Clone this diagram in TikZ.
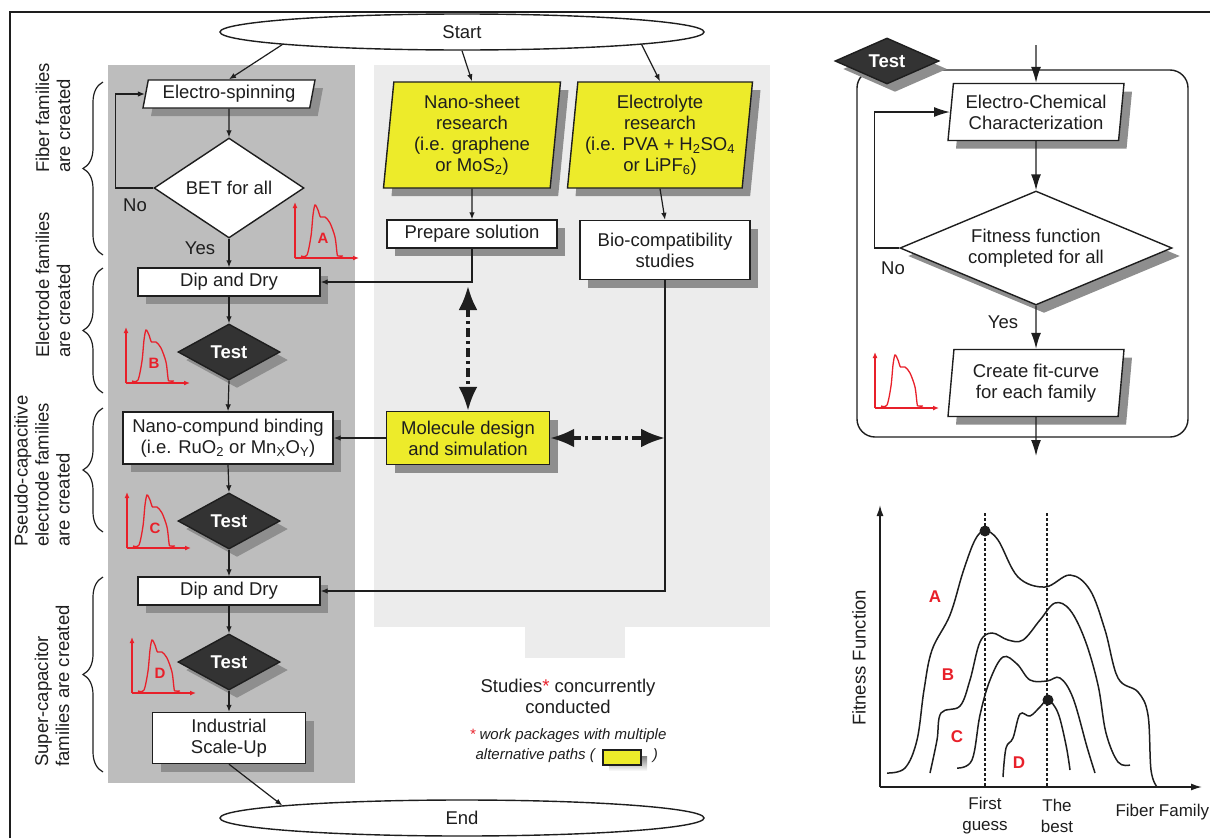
\documentclass[tikz,border=0pt]{standalone}
\usepackage{fontspec}
\setmainfont{Liberation Sans}
\usetikzlibrary{shapes.geometric,arrows.meta,shadows,decorations.pathreplacing,calc}
\definecolor{panel}{HTML}{BDBDBD}
\definecolor{lightpanel}{HTML}{ECECEC}
\definecolor{shade}{HTML}{8E8E8E}
\definecolor{boxyellow}{HTML}{EDEB2A}
\definecolor{testfill}{HTML}{333333}
\definecolor{ink}{HTML}{1E1E1E}
\definecolor{plotred}{HTML}{E8202A}
\tikzset{
  txt/.style={font=\fontsize{18.5}{21}\selectfont, text=ink},
  base/.style={txt, draw=ink, line width=1.4pt, inner sep=2pt, align=center},
  sh/.style={drop shadow={shadow xshift=8pt, shadow yshift=-8pt, fill=shade, opacity=1}},
  procbox/.style={base, sh, rectangle, fill=white},
  altbox/.style={base, sh, rectangle, fill=boxyellow},
  iobox/.style={base, sh, trapezium, trapezium stretches body, fill=white},
  decision/.style={base, diamond, fill=white, inner sep=0pt, aspect=2},
  testdia/.style={base, sh, diamond, fill=testfill, text=white, font=\bfseries\fontsize{18.5}{21}\selectfont,
    inner sep=0pt, aspect=2, minimum width=102pt, minimum height=56pt},
  terminal/.style={base, ellipse, fill=white, minimum width=484pt, minimum height=36pt},
  flow/.style={draw=ink, line width=1.2pt, -{Latex[length=7pt,width=5.5pt]}},
  bigflow/.style={draw=ink, line width=1.4pt, -{Latex[length=16pt,width=10pt]}},
  dashlink/.style={draw=ink, line width=3.5pt, dash pattern=on 9pt off 4pt on 3pt off 4pt,
    {Latex[length=24pt,width=19pt]}-{Latex[length=24pt,width=19pt]}},
  flowlab/.style={txt, inner sep=0pt},
  fambrace/.style={draw=ink, line width=1.2pt, decorate, decoration={brace, amplitude=20pt}},
  famtext/.style={txt, rotate=90, anchor=west, align=left, inner sep=0pt},
  axis/.style={draw=ink, line width=1.5pt, -{Latex[length=11pt,width=7pt]}},
  fitline/.style={draw=ink, line width=1.5pt},
  guide/.style={draw=ink, line width=1.2pt, dash pattern=on 3pt off 2pt},
  curvelab/.style={font=\bfseries\fontsize{17}{17}\selectfont, text=plotred},
  pics/spectrum/.style={code={
    \draw[plotred, line width=1.3pt, -{Latex[length=6pt,width=5pt]}] (0,0) -- (0,-56);
    \draw[plotred, line width=1.3pt, -{Latex[length=6pt,width=5pt]}] (0,0) -- (64,0);
    \draw[plotred, line width=1.3pt] plot[smooth, tension=0.5] coordinates {(6,-2) (12,-3) (16,-22) (18,-43)
      (20,-53) (23,-48) (25.5,-41) (30,-41) (35,-35) (40,-21) (42,-5) (43,-2) (48,-2)};
    \node[curvelab, font=\bfseries\fontsize{15}{15}\selectfont] at (28,-20) {#1};
  }},
  pics/spectrum/.default={}
}
\begin{document}
\begin{tikzpicture}[x=1pt, y=-1pt]
  \useasboundingbox (0,0) rectangle (1210,838);
  \draw[ink, line width=2.4pt] (10,838) -- (10,12) -- (1210,12);

  % background panels
  \fill[panel] (108,65) rectangle (355,783);
  \fill[lightpanel] (374,65) rectangle (770,627);
  \fill[lightpanel] (525,627) rectangle (625,658);
  \draw[ink, line width=1.4pt, rounded corners=18pt, fill=white] (857,70) rectangle (1188,437);

  % start and end
  \node[terminal] (start) at (462,32) {Start};
  \node[terminal] (end) at (462,818) {End};

  % main chain
  \node[iobox, trapezium left angle=76, trapezium right angle=104, minimum width=172pt, minimum height=28pt]
    (spin) at (229,94) {Electro-spinning};
  \node[decision, minimum width=150pt, minimum height=100pt] (bet) at (229,188) {BET for all};
  \node[procbox, minimum width=182pt, minimum height=28pt] (dip1) at (229,282) {Dip and Dry};
  \node[testdia] (test1) at (229,352) {Test};
  \node[procbox, minimum width=210pt, minimum height=52pt] (bind) at (228,438)
    {Nano-compund binding\\(i.e. RuO\textsubscript{2} or Mn\textsubscript{X}O\textsubscript{Y})};
  \node[testdia] (test2) at (229,521) {Test};
  \node[procbox, minimum width=182pt, minimum height=28pt] (dip2) at (229,591) {Dip and Dry};
  \node[testdia] (test3) at (229,662) {Test};
  \node[procbox, minimum width=153pt, minimum height=51pt] (scale) at (229,738) {Industrial\\Scale-Up};
  \node[flowlab] (no1) at (135,205) {No};
  \node[flowlab] (yes1) at (200,248) {Yes};

  \draw[flow] (start.184) -- (spin.north);
  \draw[flow] (spin.south) -- (bet.north);
  \draw[flow] (bet.west) -- ++(-38,0) |- (spin.west);
  \draw[flow] (bet.south) -- (dip1.north);
  \draw[flow] (dip1.south) -- (test1.north);
  \draw[flow] (test1.south) -- (bind.north);
  \draw[flow] (bind.south) -- (test2.north);
  \draw[flow] (test2.south) -- (dip2.north);
  \draw[flow] (dip2.south) -- (test3.north);
  \draw[flow] (test3.south) -- (scale.north);
  \draw[flow] (scale.south) -- (end.176);

  \pic at (295,258) {spectrum=A};
  \pic at (126,383) {spectrum=B};
  \pic at (127,548) {spectrum=C};
  \pic at (132,693) {spectrum=D};

  % family braces
  \draw[fambrace] (103,255) -- (103,82);
  \draw[fambrace] (103,393) -- (103,268);
  \draw[fambrace] (103,532) -- (103,408);
  \draw[fambrace] (103,772) -- (103,577);
  \node[famtext] (fam1) at (53,173) {Fiber families\\are created};
  \node[famtext] (fam2) at (53,358) {Electrode families\\are created};
  \node[famtext] (fam3) at (42,547) {Pseudo-capacitive\\electrode families\\are created};
  \node[famtext] (fam4) at (52,767) {Super-capacitor\\families are created};

  % concurrent studies
  \node[iobox, fill=boxyellow, trapezium left angle=83, trapezium right angle=97, minimum width=177pt, minimum height=106pt]
    (sheet) at (472,135) {Nano-sheet\\research\\(i.e. graphene\\or MoS\textsubscript{2})};
  \node[iobox, fill=boxyellow, trapezium left angle=83, trapezium right angle=97, minimum width=185pt, minimum height=106pt]
    (elyte) at (660,135) {Electrolyte\\research\\(i.e. PVA + H\textsubscript{2}SO\textsubscript{4}\\or LiPF\textsubscript{6})};
  \node[procbox, minimum width=170pt, minimum height=28pt] (prep) at (472,234) {Prepare solution};
  \node[procbox, minimum width=170pt, minimum height=59pt] (bio) at (665,250) {Bio-compatibility\\studies};
  \node[altbox, minimum width=163pt, minimum height=53pt] (mol) at (468,438) {Molecule design\\and simulation};

  \draw[flow] (start.south) -- (sheet.north);
  \draw[flow] (start.356) -- (elyte.north);
  \draw[flow] (sheet.south) -- (prep.north);
  \draw[flow] (elyte.south) -- (bio.north);
  \draw[flow] (prep.south) |- (dip1.east);
  \draw[flow] (bio.south) |- (dip2.east);
  \draw[flow] (mol.west) -- (bind.east);
  \draw[dashlink, shorten <=4pt] (mol.north |- dip1.east) -- (mol.north);
  \draw[dashlink] (mol.east) -- (mol.east -| bio.south);

  \node[txt, align=center] (studies) at (568,696) {Studies\textcolor{plotred}{*} concurrently\\conducted};
  \node[txt, align=left, font=\itshape\fontsize{15}{20}\selectfont] (note) at (568,746)
    {\textcolor{plotred}{*} work packages with multiple\\\hspace{6pt}alternative paths (\hspace{58pt})};
  \fill[shade] (609,756) rectangle (647,771);
  \draw[ink, line width=1.2pt, fill=boxyellow] (603,750) rectangle (641,765);

  % characterization loop
  \node[testdia, minimum width=104pt, minimum height=46pt] (test4) at (887,61) {Test};
  \coordinate (feed) at (1036,45);
  \coordinate (leave) at (1036,456);
  \node[iobox, trapezium left angle=82, trapezium right angle=98, minimum width=176pt, minimum height=57pt]
    (echem) at (1036,112) {Electro-Chemical\\Characterization};
  \node[decision, sh, aspect=2.4, minimum width=272pt, minimum height=114pt] (fit) at (1036,248)
    {Fitness function\\completed for all};
  \node[iobox, trapezium left angle=82, trapezium right angle=98, minimum width=176pt, minimum height=67pt]
    (fitcurve) at (1036,383) {Create fit-curve\\for each family};
  \node[flowlab] (no2) at (893,268) {No};
  \node[flowlab] (yes2) at (1003,322) {Yes};

  \draw[bigflow] (feed) -- (echem.north);
  \draw[bigflow] (echem.south) -- (fit.north);
  \draw[bigflow] (fit.west) -- ++(-25,0) |- (echem.west);
  \draw[bigflow] (fit.south) -- (fitcurve.north);
  \draw[bigflow] (fitcurve.south) -- (leave);
  \pic at (875,408) {spectrum};

  % fitness landscape
  \coordinate (org) at (880,787);
  \draw[axis] (org) -- (880,505);
  \draw[axis] (org) -- (1202,787);
  \draw[guide] (985,513) -- (985,787);
  \draw[guide] (1047,513) -- (1047,787);
  \draw[fitline] plot[smooth, tension=0.6] coordinates {(887,773) (905,768) (917,740) (924,690) (932,650)
    (950,615) (963,572) (975,540) (985,531) (998,540) (1018,577) (1045,587) (1070,575) (1090,590)
    (1105,630) (1118,678) (1138,692) (1148,715) (1151,770) (1157,787)};
  \draw[fitline] plot[smooth, tension=0.6] coordinates {(930,773) (937,740) (941,713) (960,706) (970,680)
    (980,642) (992,633) (1008,640) (1023,640) (1040,620) (1055,603) (1070,610) (1085,640) (1098,685)
    (1106,733) (1118,762) (1130,765)};
  \draw[fitline] plot[smooth, tension=0.6] coordinates {(957,768) (972,760) (980,715) (990,680) (1003,657)
    (1017,664) (1030,680) (1047,681) (1060,678) (1073,698) (1087,747) (1095,773)};
  \draw[fitline] plot[smooth, tension=0.6] coordinates {(1003,777) (1006,748) (1013,738) (1020,714)
    (1030,716) (1040,707) (1048,700) (1058,713) (1066,745) (1070,770)};
  \fill[ink] (985,531) circle (5.5pt);
  \fill[ink] (1048,700) circle (5.5pt);
  \node[curvelab] (labA) at (935,597) {A};
  \node[curvelab] (labB) at (948,675) {B};
  \node[curvelab] (labC) at (957,737) {C};
  \node[curvelab] (labD) at (1019,763) {D};
  \node[txt, rotate=90] (yname) at (859,658) {Fitness Function};
  \node[txt, align=center, font=\fontsize{17}{21}\selectfont] (first) at (985,816) {First\\guess};
  \node[txt, align=center, font=\fontsize{17}{21}\selectfont] (best) at (1057,816) {The\\best};
  \node[txt, anchor=west, font=\fontsize{17}{21}\selectfont] (xname) at (1112,812) {Fiber Family};
\end{tikzpicture}
\end{document}
